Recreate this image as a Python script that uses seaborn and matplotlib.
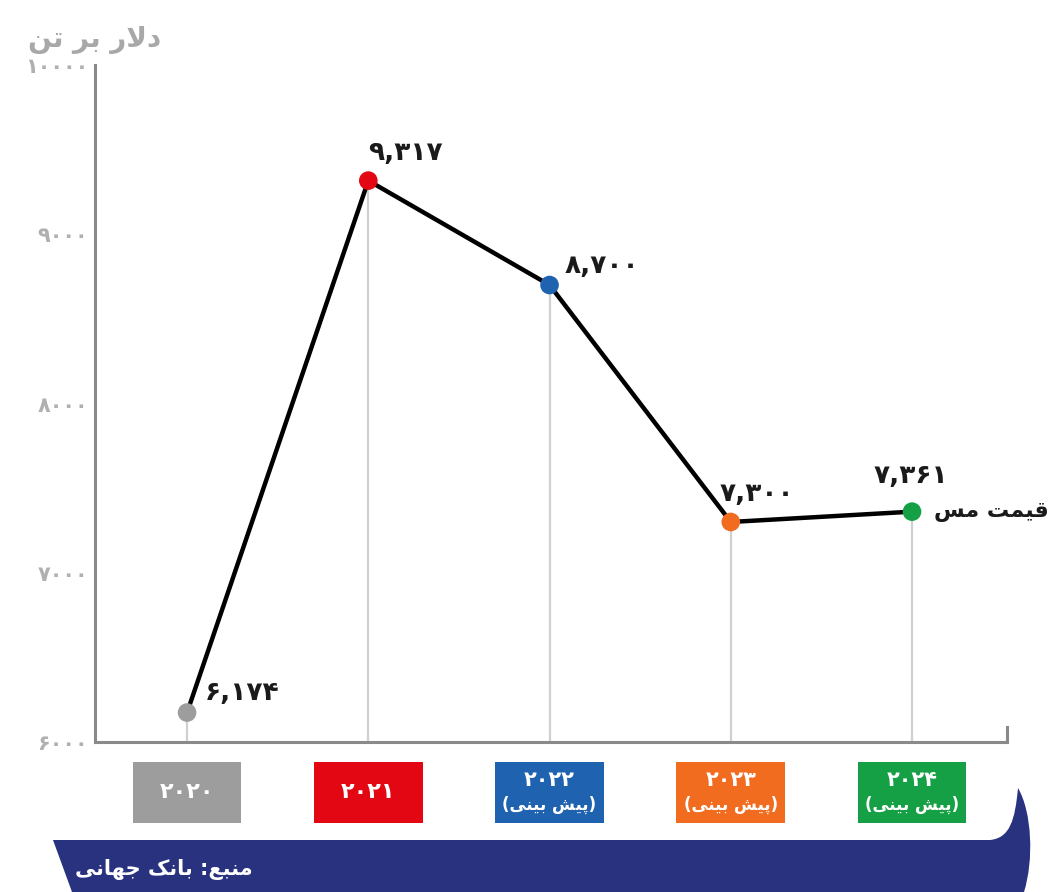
'''
Copper price chart (World Bank figures and forecasts), recreated with seaborn.
Persian text is shaped by hand into presentation forms, since matplotlib
does not do Arabic joining or right-to-left layout on its own.
'''
import matplotlib
matplotlib.use('Agg')
import matplotlib.pyplot as plt
import matplotlib.patches as mpatches
import matplotlib.transforms as mtransforms
from matplotlib.path import Path
import seaborn as sns
import pandas as pd

# --- Data ---
YEARS = ['۲۰۲۰', '۲۰۲۱', '۲۰۲۲', '۲۰۲۳', '۲۰۲۴']
FORECAST = [False, False, True, True, True]
PRICES = [6174, 9317, 8700, 7300, 7361]
PRICE_LABELS = ['۶,۱۷۴', '۹,۳۱۷', '۸,۷۰۰', '۷,۳۰۰', '۷,۳۶۱']
Y_TICKS = [6000, 7000, 8000, 9000, 10000]
Y_TICK_LABELS = ['۶۰۰۰', '۷۰۰۰', '۸۰۰۰', '۹۰۰۰', '۱۰۰۰۰']
COLORS = ['#9d9d9d', '#e30613', '#1f62b0', '#f26c1f', '#16a046']

SERIES_NAME = 'قیمت مس'
Y_UNIT = 'دلار بر تن'
FORECAST_TEXT = '(پیش بینی)'
SOURCE_TEXT = 'منبع: بانک جهانی'

# label offsets (points) relative to each marker
LABEL_OFFSETS = [(13, 14), (0, 20), (11, 14), (-8, 20), (-28, 26)]

# --- Persian shaping (isolated, final, initial, medial) ---
FORMS = {
    'ا': ('\uFE8D', '\uFE8E', None, None),
    'ب': ('\uFE8F', '\uFE90', '\uFE91', '\uFE92'),
    'پ': ('\uFB56', '\uFB57', '\uFB58', '\uFB59'),
    'ت': ('\uFE95', '\uFE96', '\uFE97', '\uFE98'),
    'ج': ('\uFE9D', '\uFE9E', '\uFE9F', '\uFEA0'),
    'د': ('\uFEA9', '\uFEAA', None, None),
    'ر': ('\uFEAD', '\uFEAE', None, None),
    'س': ('\uFEB1', '\uFEB2', '\uFEB3', '\uFEB4'),
    'ش': ('\uFEB5', '\uFEB6', '\uFEB7', '\uFEB8'),
    'ع': ('\uFEC9', '\uFECA', '\uFECB', '\uFECC'),
    'ق': ('\uFED5', '\uFED6', '\uFED7', '\uFED8'),
    'ک': ('\uFB8E', '\uFB8F', '\uFB90', '\uFB91'),
    'ل': ('\uFEDD', '\uFEDE', '\uFEDF', '\uFEE0'),
    'م': ('\uFEE1', '\uFEE2', '\uFEE3', '\uFEE4'),
    'ن': ('\uFEE5', '\uFEE6', '\uFEE7', '\uFEE8'),
    'ه': ('\uFEE9', '\uFEEA', '\uFEEB', '\uFEEC'),
    'ی': ('\uFBFC', '\uFBFD', '\uFBFE', '\uFBFF'),
}


def shape_line(s):
    """Join letters and reverse a single RTL line for left-to-right drawing."""
    if not any(c in FORMS for c in s):
        return s  # digits only: keep left-to-right order
    out = []
    i = 0
    while i < len(s):
        c = s[i]
        if c not in FORMS:
            out.append(c)
            i += 1
            continue
        prev = s[i - 1] if i > 0 else ''
        joins_prev = prev in FORMS and FORMS[prev][2] is not None
        if c == 'ل' and i + 1 < len(s) and s[i + 1] == 'ا':
            out.append('\uFEFC' if joins_prev else '\uFEFB')
            i += 2
            continue
        nxt = s[i + 1] if i + 1 < len(s) else ''
        joins_next = FORMS[c][2] is not None and nxt in FORMS
        if joins_prev:
            out.append(FORMS[c][3] if joins_next else FORMS[c][1])
        else:
            out.append(FORMS[c][2] if joins_next else FORMS[c][0])
        i += 1
    return ''.join(reversed(out)).translate(str.maketrans('()', ')('))


def fa(s):
    return '\n'.join(shape_line(line) for line in s.split('\n'))


# --- Figure ---
sns.set_style('white')
plt.rcParams['font.family'] = ['DejaVu Sans']
plt.rcParams['font.weight'] = 'bold'

W, H = 1048, 892
fig = plt.figure(figsize=(W / 100, H / 100), dpi=100)
ax = fig.add_axes([95 / W, 1 - 742 / H, (1007 - 95) / W, (742 - 65) / H])

df = pd.DataFrame({'x': range(len(YEARS)), 'year': YEARS, 'price': PRICES})

ax.vlines(df['x'], Y_TICKS[0], df['price'], color='#d0d0d0', lw=1.6, zorder=1)
sns.lineplot(data=df, x='x', y='price', color='black', lw=3.2, ax=ax, zorder=2)
sns.scatterplot(data=df, x='x', y='price', hue='year', palette=COLORS, s=180,
                edgecolor='none', legend=False, ax=ax, zorder=3)

for xi, price, lab, (dx, dy) in zip(df['x'], PRICES, PRICE_LABELS, LABEL_OFFSETS):
    ax.annotate(lab, (xi, price), xytext=(dx, dy), textcoords='offset points',
                ha='left', va='center', fontsize=19, fontweight='bold', color='#1a1a1a')

ax.annotate(fa(SERIES_NAME), (df['x'].iloc[-1], PRICES[-1]), xytext=(16, 0),
            textcoords='offset points', ha='left', va='center', fontsize=16,
            fontweight='bold', color='#1a1a1a', annotation_clip=False)

ax.set_xlim(-0.508, 4.524)
ax.set_ylim(6000, 10000)
ax.set_yticks(Y_TICKS)
ax.set_yticklabels(Y_TICK_LABELS, fontsize=15, fontweight='bold', color='#b0b0b0')
ax.set_xticks([])
ax.set_xlabel('')
ax.set_ylabel('')
ax.tick_params(axis='y', direction='in', length=17, width=1.6, color='#9a9a9a', pad=5)

ax.spines['top'].set_visible(False)
for side in ['left', 'bottom', 'right']:
    ax.spines[side].set_color('#8a8a8a')
    ax.spines[side].set_linewidth(2.2)
ax.spines['right'].set_bounds(6000, 6090)

# year boxes under the axis
trans = mtransforms.blended_transform_factory(ax.transData, ax.transAxes)
box_w, box_top, box_h = 0.60, -0.0295, 0.09
for xi, year, fc, is_fc in zip(df['x'], YEARS, COLORS, FORECAST):
    ax.add_patch(mpatches.Rectangle((xi - box_w / 2, box_top - box_h), box_w, box_h,
                                    transform=trans, facecolor=fc, edgecolor='none',
                                    clip_on=False))
    if is_fc:
        ax.text(xi, box_top - box_h * 0.3, year, transform=trans, ha='center',
                va='center', color='white', fontsize=15, fontweight='bold')
        ax.text(xi, box_top - box_h * 0.7, fa(FORECAST_TEXT), transform=trans,
                ha='center', va='center', color='white', fontsize=12,
                fontweight='bold')
    else:
        ax.text(xi, box_top - box_h / 2, year, transform=trans, ha='center',
                va='center', color='white', fontsize=16, fontweight='bold')

# unit label
fig.text(28 / W, 1 - 40 / H, fa(Y_UNIT), ha='left', va='center', fontsize=20,
         fontweight='bold', color='#a8a8a8')

# source banner
def px(x, y):
    return (x / W, 1 - y / H)

verts = [px(53, 840), px(990, 840), px(1010, 838), px(1015, 820), px(1018, 788),
         px(1032, 812), px(1034, 860), px(1024, 892), px(72, 892), px(53, 840)]
codes = [Path.MOVETO, Path.LINETO, Path.CURVE4, Path.CURVE4, Path.CURVE4,
         Path.CURVE4, Path.CURVE4, Path.CURVE4, Path.LINETO, Path.CLOSEPOLY]
fig.patches.append(mpatches.PathPatch(Path(verts, codes), transform=fig.transFigure,
                                      facecolor='#28327f', edgecolor='none'))
fig.text(75 / W, 1 - 870 / H, fa(SOURCE_TEXT), ha='left', va='center', fontsize=15,
         fontweight='bold', color='white')

plt.savefig('out.png', dpi=100)
plt.close()
